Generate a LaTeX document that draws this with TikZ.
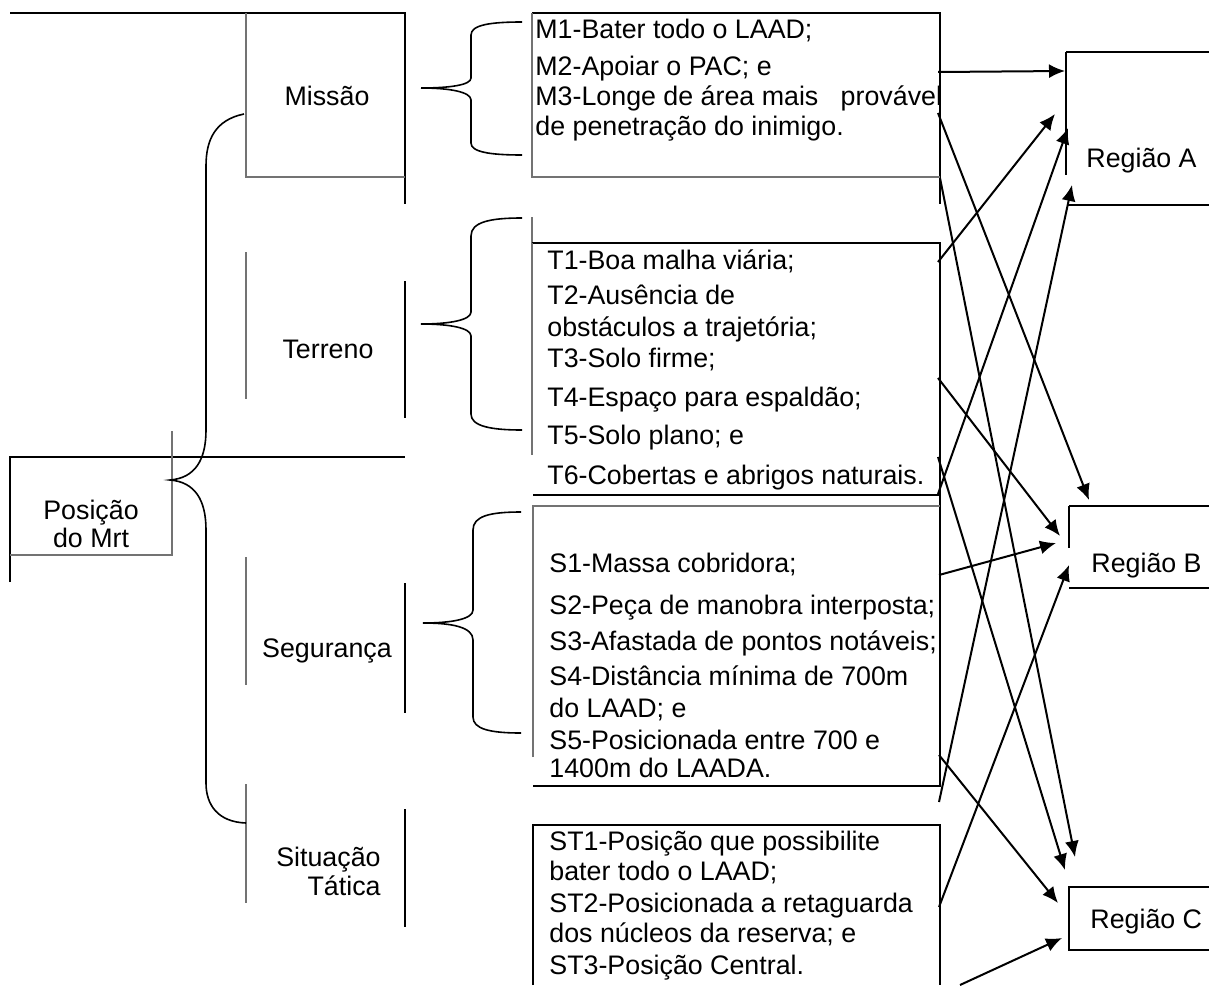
\documentclass[tikz,border=0pt]{standalone}
\usepackage{fontspec}
\setmainfont{Liberation Sans}
\usetikzlibrary{arrows.meta}
\tikzset{
  txt/.style={anchor=base west, inner sep=0pt, font=\fontsize{13.4pt}{15pt}\selectfont},
  lbl/.style={anchor=base, inner sep=0pt, font=\fontsize{13.4pt}{15pt}\selectfont},
  bline/.style={line width=1.1pt},
  gline/.style={line width=0.75pt, black!55},
  brace/.style={line width=0.8pt},
  link/.style={-{Latex[length=8pt,width=7pt]}, line width=1pt}
}

\begin{document}
\begin{tikzpicture}[x=0.5pt, y=-0.5pt]
  \useasboundingbox (0,0) rectangle (1209,985);

  % left column: factor boxes
  \draw[bline] (10,13) -- (405,13) -- (405,204);
  \draw[gline] (246,13) -- (246,177) -- (405,177);
  \draw[gline] (246,252) -- (246,399);
  \draw[bline] (405,281) -- (405,418);
  \draw[gline] (246,557) -- (246,685);
  \draw[bline] (405,583) -- (405,713);
  \draw[gline] (246,784) -- (246,903);
  \draw[bline] (405,809) -- (405,927);
  \draw[bline] (10,582) -- (10,457) -- (405,457);
  \draw[gline] (172,431) -- (172,555) -- (10,555);

  \node[lbl] (POS) at (91,519) {Posição};
  \node[lbl] (POSb) at (91,547) {do Mrt};
  \node[lbl] (MIS) at (327,105) {Missão};
  \node[lbl] (TER) at (328,358) {Terreno};
  \node[lbl] (SEG) at (327,657) {Segurança};
  \node[lbl, anchor=base east] (SIT) at (381,866) {Situação};
  \node[lbl, anchor=base east] (SITb) at (381,895) {Tática};

  % braces
  \draw[brace] (244,114) .. controls (215,120) and (206,140) .. (206,166) -- (206,430)
    .. controls (206,460) and (195,478) .. (170,480)
    .. controls (195,482) and (206,500) .. (206,530) -- (206,783)
    .. controls (206,805) and (218,822) .. (246,823);
  \draw[brace] (522,22) .. controls (490,22) and (471,25) .. (471,35) -- (471,78)
    .. controls (471,85) and (450,88) .. (421,88)
    .. controls (450,88) and (471,92) .. (471,100) -- (471,143)
    .. controls (471,152) and (490,155) .. (522,155);
  \draw[brace] (522,218) .. controls (490,218) and (471,222) .. (471,236) -- (471,312)
    .. controls (471,320) and (450,324) .. (421,324)
    .. controls (450,324) and (471,328) .. (471,336) -- (471,414)
    .. controls (471,426) and (490,430) .. (522,430);
  \draw[brace] (521,512) .. controls (490,512) and (473,516) .. (473,530) -- (473,610)
    .. controls (473,619) and (452,623) .. (423,623)
    .. controls (452,623) and (473,627) .. (473,640) -- (473,717)
    .. controls (473,729) and (490,733) .. (521,733);

  % middle column: criteria boxes
  \draw[bline] (532,13) -- (940,13) -- (940,204);
  \draw[gline] (532,13) -- (532,177) -- (940,177);
  \draw[gline] (532,217) -- (532,243);
  \draw[bline] (532,243) -- (940,243) -- (940,787);
  \draw[gline] (532,243) -- (532,455);
  \draw[bline] (533,495) -- (940,495);
  \draw[gline] (533,757) -- (533,506) -- (940,506);
  \draw[bline] (533,786) -- (940,786);
  \draw[bline] (533,985) -- (533,825) -- (940,825) -- (940,985);

  \node[txt] (M1) at (535,38) {M1-Bater todo o LAAD;};
  \node[txt] (M2) at (535,75) {M2-Apoiar o PAC; e};
  \node[txt] (M3) at (535,105) {M3-Longe de área mais\ \ \ provável};
  \node[txt] (M3b) at (535,135) {de penetração do inimigo.};

  \node[txt] (T1) at (547,269) {T1-Boa malha viária;};
  \node[txt] (T2) at (547,304) {T2-Ausência de};
  \node[txt] (T2b) at (547,336) {obstáculos a trajetória;};
  \node[txt] (T3) at (547,367) {T3-Solo firme;};
  \node[txt] (T4) at (547,406) {T4-Espaço para espaldão;};
  \node[txt] (T5) at (547,444) {T5-Solo plano; e};
  \node[txt] (T6) at (547,484) {T6-Cobertas e abrigos naturais.};

  \node[txt] (S1) at (549,572) {S1-Massa cobridora;};
  \node[txt] (S2) at (549,614) {S2-Peça de manobra interposta;};
  \node[txt] (S3) at (549,650) {S3-Afastada de pontos notáveis;};
  \node[txt] (S4) at (549,685) {S4-Distância mínima de 700m};
  \node[txt] (S4b) at (549,717) {do LAAD; e};
  \node[txt] (S5) at (549,749) {S5-Posicionada entre 700 e};
  \node[txt] (S5b) at (549,777) {1400m do LAADA.};

  \node[txt] (ST1) at (549,850) {ST1-Posição que possibilite};
  \node[txt] (ST1b) at (549,880) {bater todo o LAAD;};
  \node[txt] (ST2) at (549,912) {ST2-Posicionada a retaguarda};
  \node[txt] (ST2b) at (549,942) {dos núcleos da reserva; e};
  \node[txt] (ST3) at (549,974) {ST3-Posição Central.};

  % right column: regions
  \draw[bline] (1209,52) -- (1066,52);
  \draw[line width=0.8pt] (1066,52) -- (1066,175);
  \draw[bline] (1068,205) -- (1209,205);
  \draw[bline] (1209,506) -- (1069,506);
  \draw[line width=0.8pt] (1069,506) -- (1069,548);
  \draw[bline] (1069,588) -- (1209,588);
  \draw[bline] (1209,887) -- (1069,887) -- (1069,950) -- (1209,950);

  \node[txt] (RA) at (1086,167) {Região A};
  \node[txt] (RB) at (1091,572) {Região B};
  \node[txt] (RC) at (1090,928) {Região C};

  % arrow ends
  \coordinate (cM2) at (938,72);
  \coordinate (cM3) at (938,113);
  \coordinate (cMb) at (940,178);
  \coordinate (cT1) at (938,262);
  \coordinate (cT4) at (938,378);
  \coordinate (cT5) at (938,457);
  \coordinate (cT6) at (938,494);
  \coordinate (cS1) at (939,575);
  \coordinate (cS5) at (939,755);
  \coordinate (cSb) at (939,802);
  \coordinate (cST2) at (939,907);
  \coordinate (cST3) at (960,985);
  \coordinate (aA1) at (1065,71);
  \coordinate (aA2) at (1055,114);
  \coordinate (aA3) at (1068,128);
  \coordinate (aA4) at (1072,185);
  \coordinate (aB1) at (1089,500);
  \coordinate (aB2) at (1060,536);
  \coordinate (aB3) at (1056,543);
  \coordinate (aB4) at (1069,565);
  \coordinate (aC1) at (1075,857);
  \coordinate (aC2) at (1065,870);
  \coordinate (aC3) at (1058,903);
  \coordinate (aC4) at (1062,938);

  \path (cM2) edge[link] (aA1);
  \path (cM3) edge[link] (aB1);
  \path (cMb) edge[link] (aC1);
  \path (cT1) edge[link] (aA2);
  \path (cT4) edge[link] (aB2);
  \path (cT5) edge[link] (aC2);
  \path (cT6) edge[link] (aA3);
  \path (cS1) edge[link] (aB3);
  \path (cS5) edge[link] (aC3);
  \path (cSb) edge[link] (aA4);
  \path (cST2) edge[link] (aB4);
  \path (cST3) edge[link] (aC4);
\end{tikzpicture}
\end{document}
